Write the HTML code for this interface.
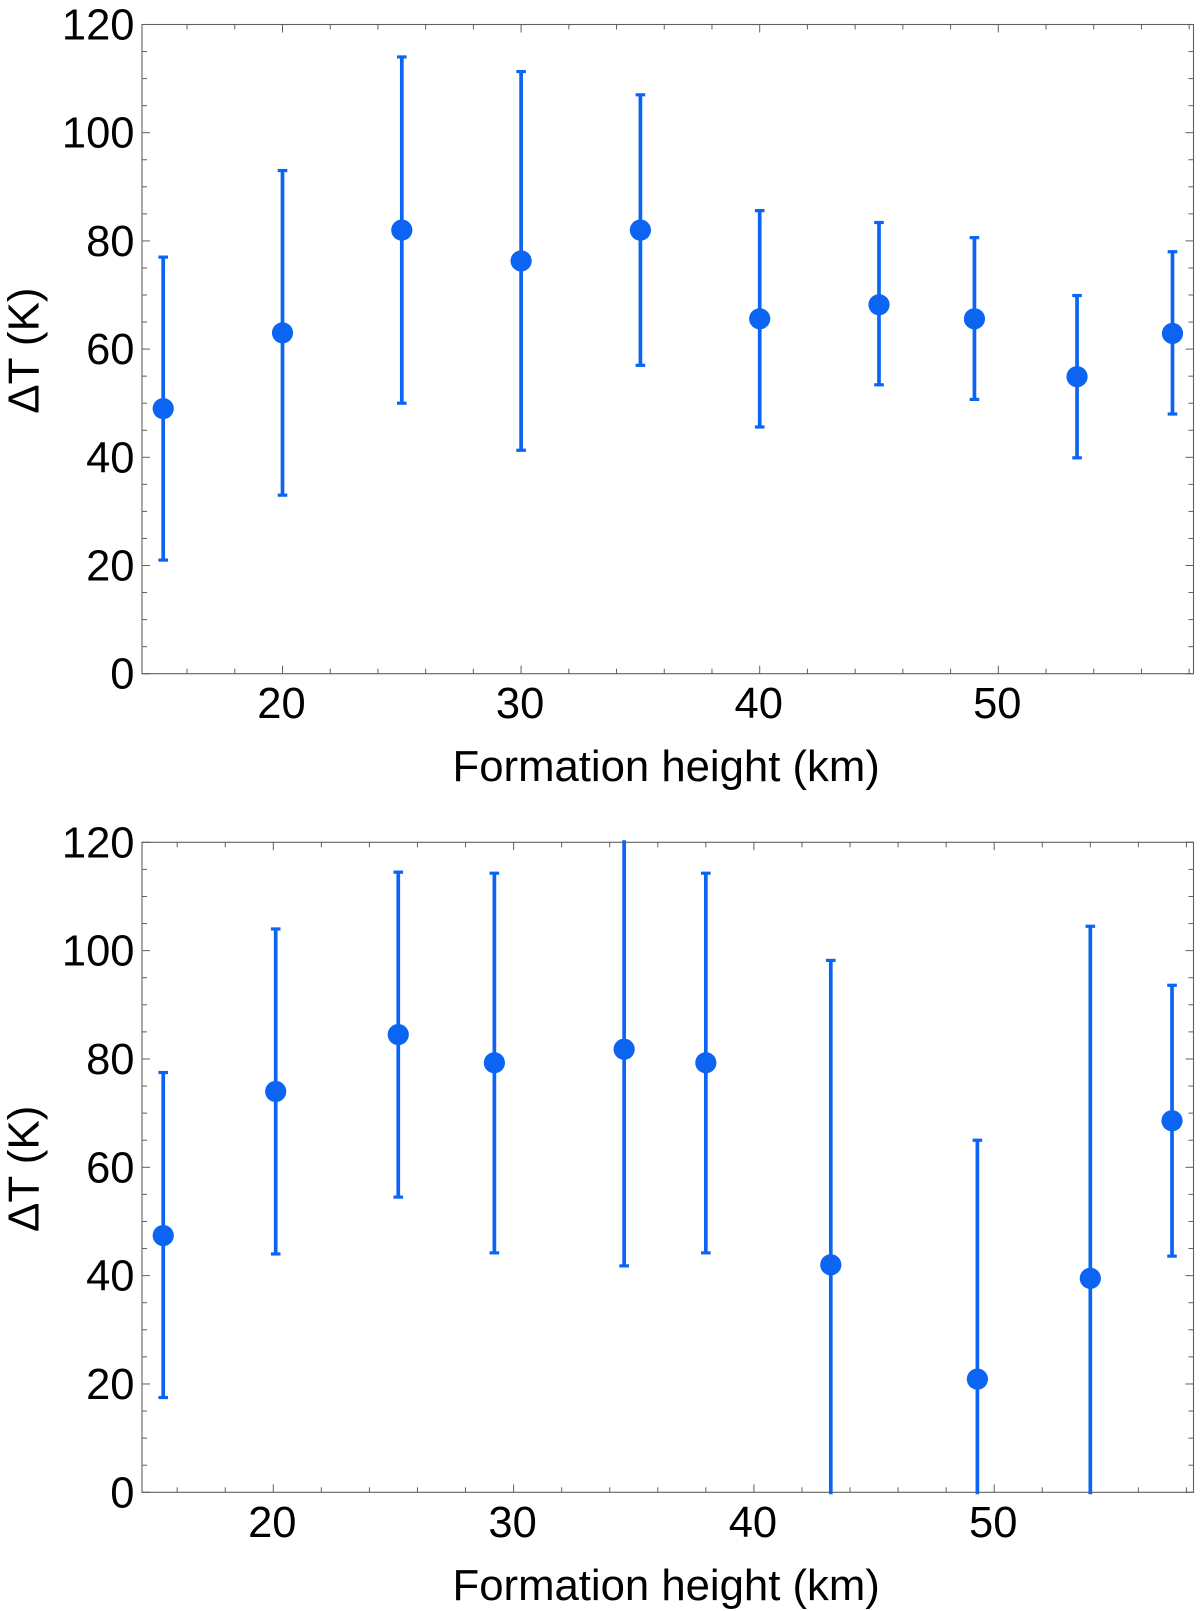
<!DOCTYPE html>
<html lang="en">
<head>
<meta charset="utf-8">
<title>Temperature difference vs formation height</title>
<style>
html,body{margin:0;padding:0;background:#fff;width:1200px;height:1611px;overflow:hidden}
svg{display:block}
text{font-family:"Liberation Sans",Arial,sans-serif;fill:#000}
</style>
</head>
<body>
<svg id="chart" xmlns="http://www.w3.org/2000/svg" width="1200" height="1611" viewBox="0 0 1200 1611"></svg>
<script>
var topHeights = [15, 20, 25, 30, 35, 40, 45, 49, 53.3, 57.3];
var topMeans = [49, 63, 82, 76.3, 82, 65.6, 68.2, 65.6, 54.9, 62.9];
var topLower = [21, 33, 50, 41.3, 57, 45.6, 53.4, 50.7, 39.9, 48];
var topUpper = [77, 93, 114, 111.3, 107, 85.6, 83.4, 80.6, 69.9, 78];

var bottomHeights = [15.42, 20.1, 25.2, 29.2, 34.6, 38, 43.2, 49.3, 54, 57.4];
var bottomMeans = [47.4, 74, 84.5, 79.3, 81.8, 79.3, 42, 20.9, 39.5, 68.6];
var bottomLower = [17.5, 44, 54.5, 44.2, 41.8, 44.2, -14, -23, -25, 43.6];
var bottomUpper = [77.5, 104, 114.5, 114.3, 122, 114.3, 98.2, 65, 104.5, 93.6];

var xTickLabels = [20, 30, 40, 50];
var xMinorTicks = [16, 18, 22, 24, 26, 28, 32, 34, 36, 38, 42, 44, 46, 48, 52, 54, 56, 58];
var yTickLabels = [0, 20, 40, 60, 80, 100, 120];
var yMinorTicks = [5, 10, 15, 25, 30, 35, 45, 50, 55, 65, 70, 75, 85, 90, 95, 105, 110, 115];
var xAxisTitle = 'Formation height (km)';
var yAxisTitle = '\u0394T (K)';

var NS = 'http://www.w3.org/2000/svg';
var svg = document.getElementById('chart');
var BLUE = '#0b64f2';
var AXIS = '#5f5f5f';

function mk(parent, tag, attrs, text) {
  var el = document.createElementNS(NS, tag);
  for (var k in attrs) el.setAttribute(k, attrs[k]);
  if (text !== undefined) el.textContent = text;
  parent.appendChild(el);
  return el;
}

function drawPanel(name, box, heights, means, lower, upper) {
  var g = mk(svg, 'g', {});
  
  

  function xScale(v) { return box.x20 + (v - 20) * box.pxPerKm; }
  function yScale(v) { return box.bottom - v * (box.bottom - box.top) / 120; }

  var clipId = name + '-clip';
  var defs = mk(g, 'defs', {});
  var cp = mk(defs, 'clipPath', {id: clipId});
  mk(cp, 'rect', {x: box.left - 2, y: box.top - 2, width: box.right - box.left + 4, height: box.bottom - box.top + 4});

  var frame = mk(g, 'rect', {x: box.left, y: box.top, width: box.right - box.left, height: box.bottom - box.top, fill: 'none', stroke: AXIS, 'stroke-width': 1.1});
  
  

  function xTick(v, len) {
    var x = xScale(v);
    var t1 = mk(g, 'line', {x1: x, x2: x, y1: box.bottom, y2: box.bottom - len, stroke: AXIS, 'stroke-width': 1});
    
    
    var t2 = mk(g, 'line', {x1: x, x2: x, y1: box.top, y2: box.top + len, stroke: AXIS, 'stroke-width': 1});
    
    
  }
  function yTick(v, len) {
    var y = yScale(v);
    var t1 = mk(g, 'line', {x1: box.left, x2: box.left + len, y1: y, y2: y, stroke: AXIS, 'stroke-width': 1});
    
    
    var t2 = mk(g, 'line', {x1: box.right, x2: box.right - len, y1: y, y2: y, stroke: AXIS, 'stroke-width': 1});
    
    
  }

  xMinorTicks.forEach(function (v) { xTick(v, 5); });
  yMinorTicks.forEach(function (v) { yTick(v, 5); });
  xTickLabels.forEach(function (v) {
    xTick(v, 8);
    var lab = mk(g, 'text', {x: xScale(v) - 1, y: box.bottom + 44.5, 'font-size': 43.5, 'text-anchor': 'middle'}, String(v));
    
    
  });
  yTickLabels.forEach(function (v) {
    yTick(v, 8);
    var lab = mk(g, 'text', {x: box.left - 7.5, y: yScale(v) + 15, 'font-size': 43.5, 'text-anchor': 'end'}, String(v));
    
    
  });

  var xt = mk(g, 'text', {x: 666.2, y: box.bottom + 107.5, 'font-size': 43.7, 'text-anchor': 'middle'}, xAxisTitle);
  
  
  var yc = (box.top + box.bottom) / 2 + 1.5;
  var yt = mk(g, 'text', {x: 0, y: 0, 'font-size': 44, 'text-anchor': 'middle', transform: 'translate(38.5 ' + yc + ') rotate(-90)'}, yAxisTitle);
  
  

  var series = mk(g, 'g', {'clip-path': 'url(#' + clipId + ')'});
  
  

  heights.forEach(function (h, i) {
    var x = xScale(h);
    var bar = mk(series, 'line', {x1: x, x2: x, y1: yScale(lower[i]), y2: yScale(upper[i]), stroke: BLUE, 'stroke-width': 3.7});
    
    
    var capHi = mk(series, 'line', {x1: x - 4.8, x2: x + 4.8, y1: yScale(upper[i]), y2: yScale(upper[i]), stroke: BLUE, 'stroke-width': 3.2});
    
    
    var capLo = mk(series, 'line', {x1: x - 4.8, x2: x + 4.8, y1: yScale(lower[i]), y2: yScale(lower[i]), stroke: BLUE, 'stroke-width': 3.2});
    
    
    var dot = mk(series, 'circle', {cx: x, cy: yScale(means[i]), r: 10.6, fill: BLUE});
    
    
  });
}

drawPanel('top-panel', {left: 142, right: 1193.5, top: 24.5, bottom: 673.7, x20: 282.5, pxPerKm: 23.86},
  topHeights, topMeans, topLower, topUpper);
drawPanel('bottom-panel', {left: 142, right: 1193.5, top: 842.3, bottom: 1492.3, x20: 273.3, pxPerKm: 24.03},
  bottomHeights, bottomMeans, bottomLower, bottomUpper);
</script>
</body>
</html>
